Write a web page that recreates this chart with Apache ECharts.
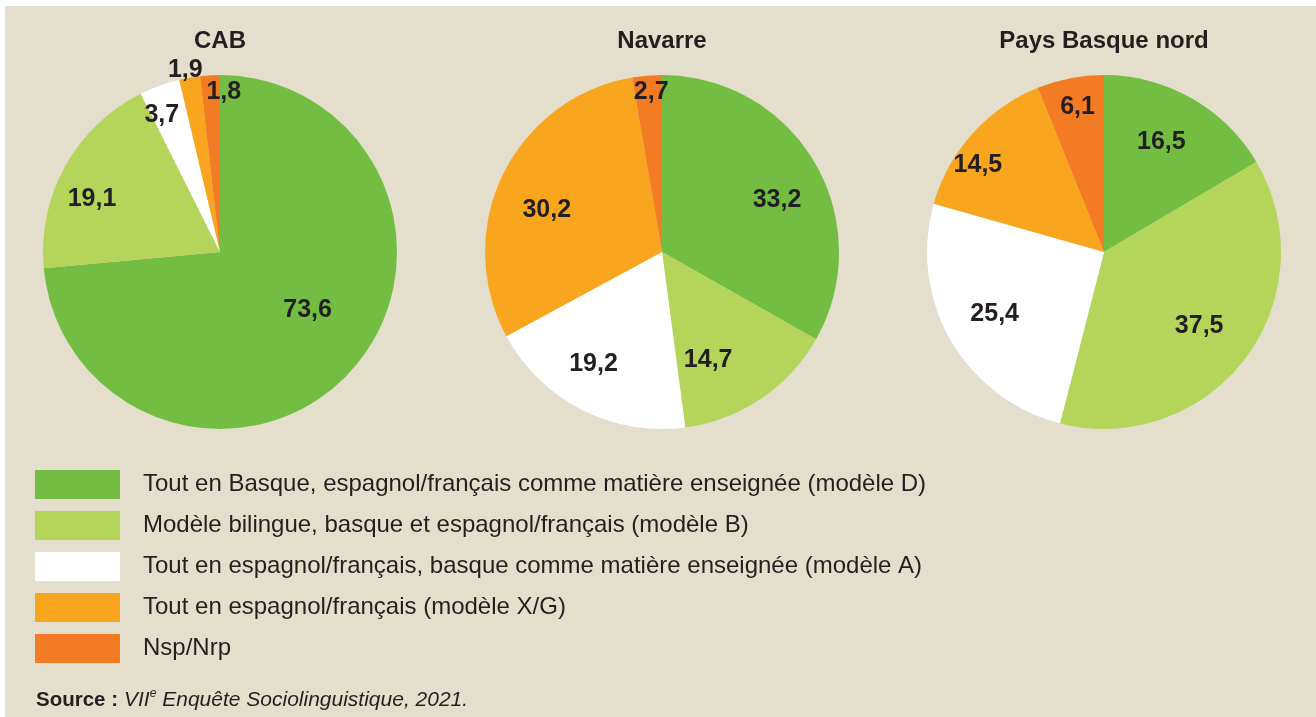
<!DOCTYPE html>
<html>
<head>
<meta charset="utf-8">
<script src="https://cdn.jsdelivr.net/npm/echarts@6/dist/echarts.min.js"></script>
<style>
  html, body { margin: 0; padding: 0; background: #ffffff; }
  #chart { width: 1316px; height: 717px; }
</style>
</head>
<body>
<div id="chart"></div>
<script>
// Teaching models by territory (%)
const categories = [
  'Tout en Basque, espagnol/français comme matière enseignée (modèle D)',
  'Modèle bilingue, basque et espagnol/français (modèle B)',
  'Tout en espagnol/français, basque comme matière enseignée (modèle A)',
  'Tout en espagnol/français (modèle X/G)',
  'Nsp/Nrp'
];
const regions = ['CAB', 'Navarre', 'Pays Basque nord'];
const cabValues = [73.6, 19.1, 3.7, 1.9, 1.8];
const navarreValues = [33.2, 14.7, 19.2, 30.2, 2.7];
const paysBasqueNordValues = [16.5, 37.5, 25.4, 14.5, 6.1];

// Styling / layout
const colors = ['#74bd43', '#b4d55a', '#ffffff', '#f9a61e', '#f37b23'];
const bg = '#e3dfcc';
const ink = '#231f20';
const font = 'Liberation Sans, Arial, Helvetica, sans-serif';
const centersX = [220, 662, 1104];
const centerY = 252;
const radius = 177;
// nudges for value labels, per slice
const labelNudges = [
  [[20, -4], [-48, -8], [-27, -51], [-19, -92], [9, -69]],
  [[36, -6], [-5, 32], [-27, 31], [-33, -2], [-3, -69]],
  [[12, -30], [22, 19], [-30, 17], [-58, -26], [-9, -55]]
];

const seriesValues = [cabValues, navarreValues, paysBasqueNordValues];

const fmt = v => String(v).replace('.', ',');

const series = seriesValues.map((vals, s) => ({
  type: 'pie',
  name: regions[s],
  center: [centersX[s], centerY],
  radius: [0, radius],
  startAngle: 90,
  clockwise: true,
  animation: false,
  silent: true,
  emphasis: { disabled: true },
  itemStyle: { borderWidth: 0 },
  labelLine: { show: false },
  label: {
    show: true,
    position: 'inside',
    color: ink,
    fontFamily: font,
    fontWeight: 'bold',
    fontSize: 25,
    formatter: p => fmt(p.value)
  },
  data: vals.map((v, i) => ({
    name: categories[i],
    value: v,
    itemStyle: { color: colors[i] },
    label: { offset: labelNudges[s][i] }
  }))
}));

const chart = echarts.init(document.getElementById('chart'), null, { renderer: 'canvas' });

chart.setOption({
  backgroundColor: '#ffffff',
  legend: {
    orient: 'vertical',
    left: 30,
    top: 465,
    itemWidth: 85,
    itemHeight: 29,
    itemGap: 12,
    icon: 'rect',
    selectedMode: false,
    data: categories,
    textStyle: {
      color: ink,
      fontFamily: font,
      fontSize: 24,
      padding: [6, 0, 0, 18]
    }
  },
  graphic: [
    {
      type: 'rect',
      z: -10,
      shape: { x: 5, y: 6, width: 1311, height: 711 },
      style: { fill: bg }
    },
    ...regions.map((r, i) => ({
      type: 'text',
      x: centersX[i],
      y: 41,
      style: {
        text: r,
        textAlign: 'center',
        textVerticalAlign: 'middle',
        fill: ink,
        font: 'bold 24px ' + font
      }
    })),
    {
      type: 'text',
      x: 36,
      y: 700,
      style: {
        text: '{b|Source :}{i|VII}{sup|e}{i| Enquête Sociolinguistique, 2021.}',
        textVerticalAlign: 'middle',
        rich: {
          b: { fontFamily: font, fontWeight: 'bold', fontSize: 20.5, fill: ink, lineHeight: 24, padding: [0, 6, 0, 0] },
          i: { fontFamily: font, fontStyle: 'italic', fontSize: 21, fill: ink, lineHeight: 24 },
          sup: { fontFamily: font, fontStyle: 'italic', fontSize: 12, fill: ink, lineHeight: 24, verticalAlign: 'top', padding: [0, 0, 9, 0] }
        }
      }
    }
  ],
  series: series
});
</script>
</body>
</html>
